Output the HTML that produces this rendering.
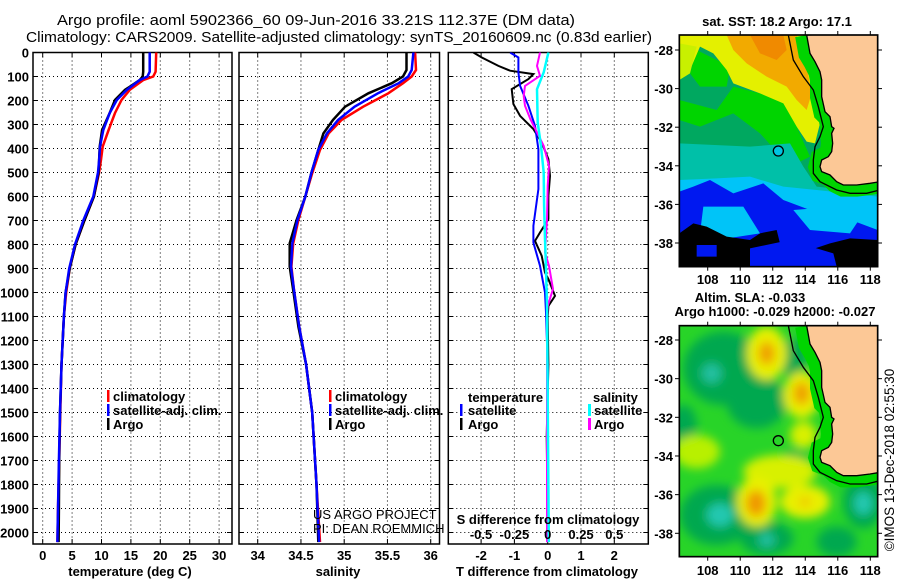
<!DOCTYPE html>
<html><head><meta charset="utf-8"><style>
html,body{margin:0;padding:0;background:#fff}
svg{display:block;font-family:"Liberation Sans",Arial,sans-serif}
.t{font-size:13px;font-weight:bold}
</style></head><body>
<svg id="s" width="900" height="580" viewBox="0 0 900 580" xmlns="http://www.w3.org/2000/svg">
<defs>
<clipPath id="cp1"><rect x="33" y="52.5" width="199" height="491.5"/></clipPath>
<clipPath id="cp2"><rect x="239" y="52.5" width="200.5" height="491.5"/></clipPath>
<clipPath id="cp3"><rect x="448.3" y="52.5" width="200" height="491.5"/></clipPath>
<clipPath id="cm1"><rect x="88" y="105" width="595" height="695"/></clipPath>
<clipPath id="cm2"><rect x="88" y="122" width="595" height="693"/></clipPath>
<filter id="bl" x="-20%" y="-20%" width="140%" height="140%"><feGaussianBlur stdDeviation="14"/></filter>
</defs>
<text x="57" y="25" font-size="15" textLength="518" lengthAdjust="spacingAndGlyphs">Argo profile: aoml 5902366_60 09-Jun-2016 33.21S 112.37E (DM data)</text>
<text x="26" y="42" font-size="15" textLength="626" lengthAdjust="spacingAndGlyphs">Climatology: CARS2009. Satellite-adjusted climatology: synTS_20160609.nc (0.83d earlier)</text>

<g id="p1"></g>
<g id="p2"></g>
<g id="p3"></g>

<g class="t">
<rect x="107" y="390" width="2.5" height="12" fill="#f00"/><text x="113" y="401">climatology</text>
<rect x="107" y="404" width="2.5" height="12" fill="#00f"/><text x="113" y="415">satellite-adj. clim.</text>
<rect x="107" y="418" width="2.5" height="12" fill="#000"/><text x="113" y="429">Argo</text>
</g>
<g class="t">
<rect x="329" y="390" width="2.5" height="12" fill="#f00"/><text x="335" y="401">climatology</text>
<rect x="329" y="404" width="2.5" height="12" fill="#00f"/><text x="335" y="415">satellite-adj. clim.</text>
<rect x="329" y="418" width="2.5" height="12" fill="#000"/><text x="335" y="429">Argo</text>
</g>
<g class="t">
<text x="468" y="402">temperature</text>
<rect x="460" y="404" width="2.5" height="12" fill="#00f"/><text x="468" y="415">satellite</text>
<rect x="460" y="418" width="2.5" height="12" fill="#000"/><text x="468" y="429">Argo</text>
<text x="593" y="402">salinity</text>
<rect x="588" y="404" width="3" height="12" fill="#0ff"/><text x="594" y="415">satellite</text>
<rect x="588" y="418" width="3" height="12" fill="#f0f"/><text x="594" y="429">Argo</text>
</g>
<text x="313" y="519" font-size="13">US ARGO PROJECT</text>
<text x="313" y="533" font-size="13">PI: DEAN ROEMMICH</text>
<text x="548" y="524" text-anchor="middle" class="t" font-size="14">S difference from climatology</text>
<text x="130" y="576" text-anchor="middle" class="t">temperature (deg C)</text>
<text x="338" y="576" text-anchor="middle" class="t">salinity</text>
<text x="547" y="576" text-anchor="middle" class="t">T difference from climatology</text>

<text x="777" y="26" text-anchor="middle" class="t">sat. SST: 18.2 Argo: 17.1</text>
<g transform="translate(650,0) scale(0.33333)">
<g clip-path="url(#cm1)">
<rect x="88" y="105" width="595" height="695" fill="#00a860"/>
<polygon fill="#00d400" points="88,300 200,330 250,260 330,280 400,300 440,380 480,470 420,500 330,400 250,340 150,380 88,360"/>
<polygon fill="#00d400" points="140,150 240,200 230,260 150,260 120,220"/>
<polygon fill="#e4f000" points="88,105 470,105 490,180 510,240 520,330 495,430 470,425 440,380 400,310 330,280 250,250 230,210 190,160 150,140 120,210 88,240"/>
<polygon fill="#c8f000" points="88,130 140,140 120,220 88,240"/>
<polygon fill="#f2aa00" points="230,105 440,105 470,200 485,280 470,330 440,300 410,260 350,230 290,190 250,150"/>
<polygon fill="#f08a00" points="300,105 400,105 410,150 380,180 330,160"/>
<polygon fill="#00c0a8" points="88,430 300,440 420,430 460,500 500,560 683,580 683,800 88,800"/>
<polygon fill="#00c4f8" points="88,540 200,535 300,530 400,560 500,570 683,590 683,800 88,800"/>
<polygon fill="#0018f0" points="88,575 130,560 180,540 250,580 340,550 400,600 480,630 550,640 683,690 683,800 88,800"/>
<polygon fill="#00c4f8" points="160,620 280,620 330,700 200,720 150,700"/>
<polygon fill="#00c4f8" points="430,630 560,620 640,640 600,700 480,690"/>
<polygon fill="#000" points="88,700 130,670 170,680 230,710 300,720 330,700 380,690 390,730 450,760 540,730 600,715 683,720 683,800 88,800"/>
<polygon fill="#0018f0" points="140,735 200,735 200,770 140,770"/>
<polygon fill="#0018f0" points="300,745 420,720 500,745 550,760 560,800 300,800"/>
<path d="M470,105 L480,160 495,185 510,215 515,240 515,290 525,335 540,350 545,380 552,385 545,400 548,430 545,455 535,470 515,480 510,500 515,515 540,525 560,545 580,555 620,555 660,550 690,545" fill="none" stroke="#00d400" stroke-width="70"/>
<path d="M470,105 L480,160 495,185 510,215 515,240 515,290 525,335 540,350 545,380 552,385 545,400 548,430 545,455 535,470 515,480 510,500 515,515 540,525 560,545 580,555 620,555 660,550 690,545 690,100 Z" fill="#fcc896" stroke="#000" stroke-width="4"/>
<path d="M415,105 L430,180 460,230 490,270 505,320 520,380 510,410 495,440 490,480 490,520 510,545 560,570 600,580 650,580 690,570" fill="none" stroke="#000" stroke-width="4"/>
</g>
<circle cx="385" cy="453" r="15" fill="#00c4e0" stroke="#000" stroke-width="4"/>
<rect x="88" y="105" width="595" height="695" fill="none" stroke="#000" stroke-width="5"/>
</g>

<text x="750" y="302" text-anchor="middle" class="t">Altim. SLA: -0.033</text>
<text x="775" y="316" text-anchor="middle" class="t">Argo h1000: -0.029 h2000: -0.027</text>
<g transform="translate(650,285) scale(0.33333)">
<g clip-path="url(#cm2)">
<rect x="88" y="122" width="595" height="693" fill="#28d428"/>
<g filter="url(#bl)">
<ellipse cx="220" cy="250" rx="120" ry="110" fill="#00a850"/>
<ellipse cx="320" cy="350" rx="90" ry="80" fill="#00a850"/>
<ellipse cx="430" cy="220" rx="40" ry="60" fill="#00a850"/>
<ellipse cx="430" cy="545" rx="50" ry="50" fill="#00a850"/>
<ellipse cx="200" cy="690" rx="110" ry="90" fill="#00a850"/>
<ellipse cx="350" cy="760" rx="80" ry="50" fill="#00a850"/>
<ellipse cx="640" cy="650" rx="60" ry="80" fill="#00a850"/>
<ellipse cx="560" cy="770" rx="60" ry="45" fill="#00a850"/>
<ellipse cx="100" cy="420" rx="40" ry="60" fill="#00a850"/>
<ellipse cx="185" cy="265" rx="30" ry="30" fill="#20c0a0"/>
<ellipse cx="210" cy="690" rx="40" ry="35" fill="#20c8b0"/>
<ellipse cx="640" cy="655" rx="28" ry="35" fill="#20c8b0"/>
<ellipse cx="350" cy="765" rx="25" ry="22" fill="#20c0a0"/>
<ellipse cx="140" cy="500" rx="70" ry="50" fill="#b8f000"/>
<ellipse cx="390" cy="560" rx="110" ry="50" fill="#d8f000"/>
<ellipse cx="460" cy="450" rx="40" ry="40" fill="#d8f000"/>
<ellipse cx="350" cy="205" rx="60" ry="80" fill="#e8f000"/>
<ellipse cx="455" cy="330" rx="55" ry="70" fill="#e8f000"/>
<ellipse cx="320" cy="650" rx="60" ry="75" fill="#e8f000"/>
<ellipse cx="465" cy="650" rx="75" ry="50" fill="#e8f000"/>
<ellipse cx="350" cy="205" rx="25" ry="35" fill="#f0a000"/>
<ellipse cx="455" cy="325" rx="25" ry="35" fill="#f0a000"/>
<ellipse cx="318" cy="655" rx="30" ry="40" fill="#f09800"/>
<ellipse cx="465" cy="650" rx="20" ry="15" fill="#f0c800"/>
</g>
<path d="M470,122 L480,177 495,202 510,232 515,257 515,307 525,352 540,367 545,397 552,402 545,417 548,447 545,472 535,487 515,497 510,517 515,532 540,542 560,562 580,572 620,572 660,567 690,562" fill="none" stroke="#00d400" stroke-width="70"/>
<path d="M470,122 L480,177 495,202 510,232 515,257 515,307 525,352 540,367 545,397 552,402 545,417 548,447 545,472 535,487 515,497 510,517 515,532 540,542 560,562 580,572 620,572 660,567 690,562 690,115 Z" fill="#fcc896" stroke="#000" stroke-width="4"/>
<path d="M415,122 L430,197 460,247 490,287 505,337 520,397 510,427 495,457 490,497 490,537 510,562 560,587 600,597 650,597 690,587" fill="none" stroke="#000" stroke-width="4"/>
</g>
<circle cx="385" cy="467" r="15" fill="none" stroke="#000" stroke-width="4"/>
<rect x="88" y="122" width="595" height="693" fill="none" stroke="#000" stroke-width="5"/>
</g>
<g id="mapaxes"></g>
<text transform="translate(894,460) rotate(-90)" text-anchor="middle" font-size="13.5">©IMOS 13-Dec-2018 02:55:30</text>
</svg>
<script>
const tempDepths = [0,80,100,115,156,198,252,323,392,450,500,600,700,800,900,1000,1100,1300,1500,1700,1900,2040];
const tempClim = [19.3,19.2,18.8,17.1,14.8,13.4,12.3,11.2,10.2,9.9,9.6,8.7,7.1,5.6,4.6,4.0,3.6,3.2,3.0,2.8,2.6,2.5];
const tempSat  = [18.2,18.2,17.8,16.5,14.3,12.6,11.4,10.3,9.75,9.6,9.4,8.6,6.9,5.5,4.5,3.9,3.6,3.2,2.95,2.75,2.6,2.5];
const tempArgo = [17.1,17.1,17.0,16.5,14.0,12.3,11.4,10.1,9.7,9.6,9.5,8.7,7.1,5.6,4.6,3.9,3.6,3.2,2.95,2.8,2.75,2.7];
const salDepths = [0,73,100,128,170,226,281,337,406,503,601,698,795,892,990,1142,1300,1500,1800,2040];
const salClim = [35.82,35.83,35.78,35.68,35.51,35.22,34.97,34.82,34.72,34.63,34.55,34.47,34.41,34.39,34.42,34.48,34.56,34.63,34.68,34.72];
const salSat  = [35.80,35.78,35.74,35.63,35.39,35.12,34.93,34.80,34.70,34.62,34.55,34.46,34.40,34.385,34.42,34.48,34.56,34.63,34.68,34.71];
const salArgo = [35.72,35.72,35.68,35.55,35.28,35.01,34.87,34.76,34.70,34.62,34.55,34.45,34.37,34.37,34.41,34.47,34.56,34.63,34.68,34.70];
const dTArgoDepths = [0,21,56,76,90,111,153,215,264,319,375,444,514,597,694,750,785,847,917,944,1014,1056,1100,1300,1600,1950];
const dTArgo = [-2.23,-1.98,-1.48,-1.13,-0.43,-0.58,-1.08,-1.03,-0.83,-0.43,-0.18,0.02,0.07,0.02,0.02,-0.23,-0.38,-0.18,-0.08,0.02,0.22,0.02,0,0.02,-0.03,0];
const dTSatDepths = [0,21,83,139,222,306,403,569,722,792,889,1000,1083,1300,2040];
const dTSat = [-1.13,-0.88,-0.88,-0.83,-0.58,-0.38,-0.28,-0.28,-0.43,-0.43,-0.23,-0.08,-0.05,0,0];
const dSArgoDepths = [0,56,97,139,181,222,278,333,389,472,556,694,833,889,986,1056,1100,2040];
const dSArgo = [-0.058,-0.08,-0.058,-0.17,-0.18,-0.17,-0.13,-0.08,-0.03,0.01,0.0,-0.005,-0.02,0.01,0.04,0.0,-0.005,-0.005];
const dSSatDepths = [0,83,153,292,389,500,639,778,917,1056,2040];
const dSSat = [0.005,-0.03,-0.08,-0.075,-0.05,-0.03,-0.027,-0.02,-0.012,-0.005,0.008];
const depthTicks = [0,100,200,300,400,500,600,700,800,900,1000,1100,1200,1300,1400,1500,1600,1700,1800,1900,2000];
const tempTicks = [0,5,10,15,20,25,30];
const salTicks = [34,34.5,35,35.5,36];
const tdTicks = [-2,-1,0,1,2];
const sdTicks = [-0.5,-0.25,0,0.25,0.5];
const sdLabels = ["-0.5","-0.25","0","0.25","0.5"];
const lonTicks = [108,110,112,114,116,118];
const latTicks = [-28,-30,-32,-34,-36,-38];

const NS='http://www.w3.org/2000/svg';
const yD = d => 52.5 + d*0.24;
const xT = v => 42.7 + v*5.88;
const xS = v => 257.7 + (v-34)*86.5;
const xTD = v => 547.7 + v*33.3;
const xSD = v => 547.7 + v*133.3;
const lonX = v => 707.7 + (v-108)*16.26;
const latY1 = v => 50 + (-28 - v)*19.3;
const latY2 = v => 340 + (-28 - v)*19.33;

function el(tag, attrs, parent){const e=document.createElementNS(NS,tag);for(const k in attrs)e.setAttribute(k,attrs[k]);parent.appendChild(e);return e;}

function panel(g, x0, x1, xTicksPx){
  const y0=52.5,y1=544;
  depthTicks.forEach(d=>{
    const l=el('line',{x1:x0,x2:x1,y1:yD(d),y2:yD(d),stroke:'#000','stroke-width':1,'stroke-dasharray':'1,3'},g);
    
    
    el('line',{x1:x0,x2:x0+5,y1:yD(d),y2:yD(d),stroke:'#000','stroke-width':1},g);
    el('line',{x1:x1-5,x2:x1,y1:yD(d),y2:yD(d),stroke:'#000','stroke-width':1},g);
  });
  xTicksPx.forEach(x=>{
    const l=el('line',{x1:x,x2:x,y1:y0,y2:y1,stroke:'#000','stroke-width':1,'stroke-dasharray':'1,3'},g);
    
    
    el('line',{x1:x,x2:x,y1:y1-5,y2:y1,stroke:'#000','stroke-width':1},g);
    el('line',{x1:x,x2:x,y1:y0,y2:y0+5,stroke:'#000','stroke-width':1},g);
  });
  const r=el('rect',{x:x0,y:y0,width:x1-x0,height:y1-y0,fill:'none',stroke:'#000','stroke-width':1.5},g);
  
  
}
function series(g, depths, vals, xf, color, name, w){
  const pts=depths.map((d,i)=>xf(vals[i]).toFixed(1)+','+yD(d).toFixed(1)).join(' ');
  const p=el('polyline',{points:pts,fill:'none',stroke:color,'stroke-width':w||2.5,'stroke-linejoin':'miter'},g);
  
  
}
function label(g,x,y,txt,anchor,name){
  const t=el('text',{x:x,y:y,'text-anchor':anchor||'middle','class':'t'},g);
  t.textContent=txt;
  
  
}

const p1=document.getElementById('p1');
panel(p1,33,232,tempTicks.map(xT));
const c1=el('g',{'clip-path':'url(#cp1)'},p1);
series(c1,tempDepths,tempClim,xT,'#f00','temp-climatology-line');
series(c1,tempDepths,tempArgo,xT,'#000','temp-argo-line');
series(c1,tempDepths,tempSat,xT,'#00f','temp-satellite-line');
depthTicks.forEach(d=>label(p1,29,yD(d)+5,String(d),'end','depth-tick-label'));
tempTicks.forEach(v=>label(p1,xT(v),560,String(v),'middle','temperature-tick-label'));

const p2=document.getElementById('p2');
panel(p2,239,439.5,salTicks.map(xS));
const c2=el('g',{'clip-path':'url(#cp2)'},p2);
series(c2,salDepths,salClim,xS,'#f00','sal-climatology-line');
series(c2,salDepths,salArgo,xS,'#000','sal-argo-line');
series(c2,salDepths,salSat,xS,'#00f','sal-satellite-line');
salTicks.forEach(v=>label(p2,xS(v),560,String(v),'middle','salinity-tick-label'));

const p3=document.getElementById('p3');
panel(p3,448.3,648.3,tdTicks.map(xTD));
const c3=el('g',{'clip-path':'url(#cp3)'},p3);
series(c3,dTArgoDepths,dTArgo,xTD,'#000','tdiff-argo-line',2);
series(c3,dTSatDepths,dTSat,xTD,'#00f','tdiff-satellite-line',2);
series(c3,dSArgoDepths,dSArgo,xSD,'#f0f','sdiff-argo-line',2);
series(c3,dSSatDepths,dSSat,xSD,'#0ff','sdiff-satellite-line',2.5);
tdTicks.forEach(v=>label(p3,xTD(v),560,String(v),'middle','tdiff-tick-label'));
sdTicks.forEach((v,i)=>label(p3,xSD(v),539,sdLabels[i],'middle','sdiff-tick-label'));

const ma=document.getElementById('mapaxes');
lonTicks.forEach(v=>{
  label(ma,lonX(v),284,String(v),'middle','sst-lon-tick-label');
  label(ma,lonX(v),575,String(v),'middle','sla-lon-tick-label');
  [[35,31],[266.7,270.7],[325.7,321.7],[556.7,560.7]].forEach(a=>el('line',{x1:lonX(v),x2:lonX(v),y1:a[0],y2:a[1],stroke:'#000'},ma));
});
latTicks.forEach(v=>{
  label(ma,673,latY1(v)+5,String(v),'end','sst-lat-tick-label');
  label(ma,673,latY2(v)+5,String(v),'end','sla-lat-tick-label');
  [latY1(v),latY2(v)].forEach(y=>{
    el('line',{x1:675,x2:679,y1:y,y2:y,stroke:'#000'},ma);
    el('line',{x1:877.7,x2:882,y1:y,y2:y,stroke:'#000'},ma);
  });
});
</script>
</body></html>
